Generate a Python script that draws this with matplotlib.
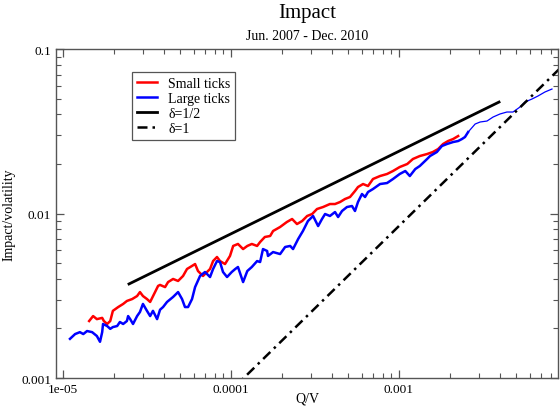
import matplotlib.pyplot as plt

plt.rcParams['font.family'] = ['Liberation Serif', 'DejaVu Serif']

# small ticks (red)
red_x = [1.43e-5, 1.51e-5, 1.59e-5, 1.71e-5, 1.75e-5, 1.83e-5, 1.91e-5, 1.98e-5, 2.13e-5, 2.28e-5,
         2.40e-5, 2.58e-5, 2.76e-5, 2.87e-5, 2.99e-5, 3.16e-5, 3.30e-5, 3.53e-5, 3.68e-5, 3.78e-5,
         4.05e-5, 4.22e-5, 4.52e-5, 4.84e-5, 5.18e-5, 5.47e-5, 5.86e-5, 6.11e-5, 6.36e-5, 6.81e-5,
         7.50e-5, 7.82e-5, 8.25e-5, 8.60e-5, 9.21e-5, 9.86e-5, 1.03e-4, 1.10e-4, 1.18e-4, 1.25e-4,
         1.33e-4, 1.43e-4, 1.49e-4, 1.59e-4, 1.71e-4, 1.78e-4, 1.96e-4, 2.15e-4, 2.31e-4, 2.47e-4,
         2.65e-4, 2.84e-4, 3.04e-4, 3.25e-4, 3.53e-4, 3.88e-4, 4.16e-4, 4.46e-4, 4.77e-4, 5.11e-4,
         5.47e-4, 5.70e-4, 6.11e-4, 6.54e-4, 7.00e-4, 7.71e-4, 8.49e-4, 9.21e-4, 1.01e-3, 1.12e-3,
         1.21e-3, 1.33e-3, 1.47e-3, 1.59e-3, 1.71e-3, 1.83e-3, 1.96e-3, 2.10e-3, 2.25e-3]
red_y = [0.00222, 0.00238, 0.00228, 0.00232, 0.00222, 0.00213, 0.00222, 0.00256, 0.00270, 0.00282,
         0.00294, 0.00302, 0.00315, 0.00333, 0.00315, 0.00302, 0.00290, 0.00333, 0.00363, 0.00368,
         0.00357, 0.00383, 0.00400, 0.00389, 0.00417, 0.00460, 0.00480, 0.00493, 0.00447, 0.00417,
         0.00460, 0.00514, 0.00544, 0.00514, 0.00493, 0.00552, 0.00635, 0.00653, 0.00608, 0.00635,
         0.00653, 0.00635, 0.00671, 0.00720, 0.00730, 0.00783, 0.00828, 0.00888, 0.00926, 0.00863,
         0.00900, 0.00966, 0.00993, 0.01065, 0.01095, 0.01142, 0.01142, 0.01175, 0.01225, 0.01260,
         0.01370, 0.01449, 0.01511, 0.01469, 0.01621, 0.01690, 0.01739, 0.01813, 0.01917, 0.02000,
         0.02145, 0.02236, 0.02300, 0.02365, 0.02466, 0.02646, 0.02759, 0.02837, 0.02958]

# large ticks (blue)
blue_x = [1.10e-5, 1.18e-5, 1.26e-5, 1.32e-5, 1.39e-5, 1.49e-5, 1.59e-5, 1.66e-5, 1.71e-5, 1.73e-5,
          1.83e-5, 1.91e-5, 1.98e-5, 2.10e-5, 2.18e-5, 2.28e-5, 2.40e-5, 2.44e-5, 2.51e-5, 2.61e-5,
          2.76e-5, 2.87e-5, 2.99e-5, 3.16e-5, 3.30e-5, 3.43e-5, 3.63e-5, 3.78e-5, 3.94e-5, 4.16e-5,
          4.52e-5, 4.84e-5, 5.11e-5, 5.32e-5, 5.55e-5, 5.86e-5, 6.11e-5, 6.54e-5, 7.00e-5, 7.50e-5,
          7.82e-5, 8.25e-5, 8.60e-5, 8.96e-5, 9.47e-5, 1.01e-4, 1.06e-4, 1.10e-4, 1.18e-4, 1.25e-4,
          1.33e-4, 1.43e-4, 1.49e-4, 1.55e-4, 1.64e-4, 1.66e-4, 1.78e-4, 1.96e-4, 2.10e-4, 2.25e-4,
          2.34e-4, 2.51e-4, 2.68e-4, 2.87e-4, 3.08e-4, 3.30e-4, 3.48e-4, 3.63e-4, 3.88e-4, 4.16e-4,
          4.34e-4, 4.58e-4, 4.90e-4, 5.25e-4, 5.47e-4, 5.70e-4, 6.02e-4, 6.28e-4, 6.54e-4, 7.00e-4,
          7.71e-4, 8.49e-4, 9.21e-4, 1.01e-3, 1.09e-3, 1.16e-3, 1.25e-3, 1.33e-3, 1.47e-3, 1.53e-3,
          1.68e-3, 1.80e-3, 1.93e-3, 2.10e-3, 2.25e-3, 2.37e-3, 2.47e-3, 2.58e-3, 2.84e-3, 3.04e-3,
          3.34e-3, 3.63e-3, 3.99e-3, 4.39e-3, 4.77e-3, 5.25e-3, 5.62e-3, 6.19e-3, 6.72e-3, 7.39e-3,
          8.14e-3]
blue_y = [0.00173, 0.00185, 0.00190, 0.00185, 0.00193, 0.00190, 0.00180, 0.00166, 0.00190, 0.00213,
          0.00207, 0.00199, 0.00204, 0.00207, 0.00219, 0.00213, 0.00222, 0.00238, 0.00228, 0.00213,
          0.00238, 0.00252, 0.00282, 0.00256, 0.00238, 0.00256, 0.00228, 0.00260, 0.00270, 0.00290,
          0.00311, 0.00333, 0.00302, 0.00270, 0.00270, 0.00302, 0.00357, 0.00417, 0.00441, 0.00411,
          0.00460, 0.00514, 0.00507, 0.00441, 0.00411, 0.00441, 0.00460, 0.00473, 0.00383, 0.00447,
          0.00473, 0.00514, 0.00507, 0.00608, 0.00592, 0.00552, 0.00583, 0.00567, 0.00626, 0.00635,
          0.00608, 0.00700, 0.00783, 0.00900, 0.00966, 0.00839, 0.00926, 0.00993, 0.00966, 0.01021,
          0.00952, 0.01036, 0.01095, 0.01111, 0.01036, 0.01175, 0.01314, 0.01260, 0.01351, 0.01409,
          0.01511, 0.01532, 0.01621, 0.01739, 0.01813, 0.01690, 0.01864, 0.01945, 0.02145, 0.02236,
          0.02365, 0.02572, 0.02646, 0.02720, 0.02759, 0.02837, 0.02917, 0.03128, 0.03500, 0.03600,
          0.03649, 0.03859, 0.04027, 0.04140, 0.04140, 0.04440, 0.04763, 0.04966, 0.05180, 0.05478,
          0.05712]

# reference power laws (end points)
half_x = [2.47e-5, 3.94e-3]
half_y = [0.00373, 0.0476]
one_x = [1.0e-4, 1.0e-2]
one_y = [8.4e-4, 8.4e-2]

xticks = [1e-5, 1e-4, 1e-3]
xtick_labels = ["1e-05", "0.0001", "0.001"]
yticks = [0.001, 0.01, 0.1]
ytick_labels = ["0.001", "0.01", "0.1"]

fig = plt.figure(figsize=(5.6, 4.1), dpi=100)
ax = fig.add_axes([0.1, 0.0756, 0.8964, 0.8024])

tail = 97  # blue gets thin where the data thins out
ax.plot(red_x, red_y, color="#ff0000", lw=1.8, label="Small ticks")
ax.plot(blue_x[:tail + 1], blue_y[:tail + 1], color="#0000ff", lw=1.8, label="Large ticks")
ax.plot(blue_x[tail:], blue_y[tail:], color="#0000ff", lw=0.9)
ax.plot(half_x, half_y, color="black", lw=2.0, label="δ=1/2")
ax.plot(one_x, one_y, color="black", lw=1.8, dashes=(4, 2, 1, 2), label="δ=1")

ax.set_xscale("log")
ax.set_yscale("log")
ax.set_xlim(9.08e-6, 8.84e-3)
ax.set_ylim(0.001, 0.1)
ax.set_xticks(xticks)
ax.set_xticklabels(xtick_labels)
ax.set_yticks(yticks)
ax.set_yticklabels(ytick_labels)
ax.tick_params(which="both", direction="in", top=True, right=True, color="#555555", labelsize=9.5)
ax.tick_params(which="major", length=6, width=0.9)
ax.tick_params(which="minor", length=3.5, width=0.8)
for s in ax.spines.values():
    s.set_color("#555555")
    s.set_linewidth(1.0)

ax.set_xlabel("Q/V", fontsize=10)
ax.xaxis.set_label_coords(0.5, -0.042)
ax.set_ylabel("Impact/volatility", fontsize=10, labelpad=4)

fig.text(0.548, 0.968, "Impact", ha="center", va="center", fontsize=15)
fig.text(0.548, 0.91, "Jun. 2007 - Dec. 2010", ha="center", va="center", fontsize=10)

leg = ax.legend(loc="upper left", bbox_to_anchor=(0.1514, 0.93), borderaxespad=0,
                fontsize=10, fancybox=False, framealpha=1, edgecolor="#555555",
                handlelength=1.45, handletextpad=0.8, labelspacing=0.15, borderpad=0.35)
leg.get_frame().set_linewidth(0.9)

plt.savefig("out.png", dpi=100)
